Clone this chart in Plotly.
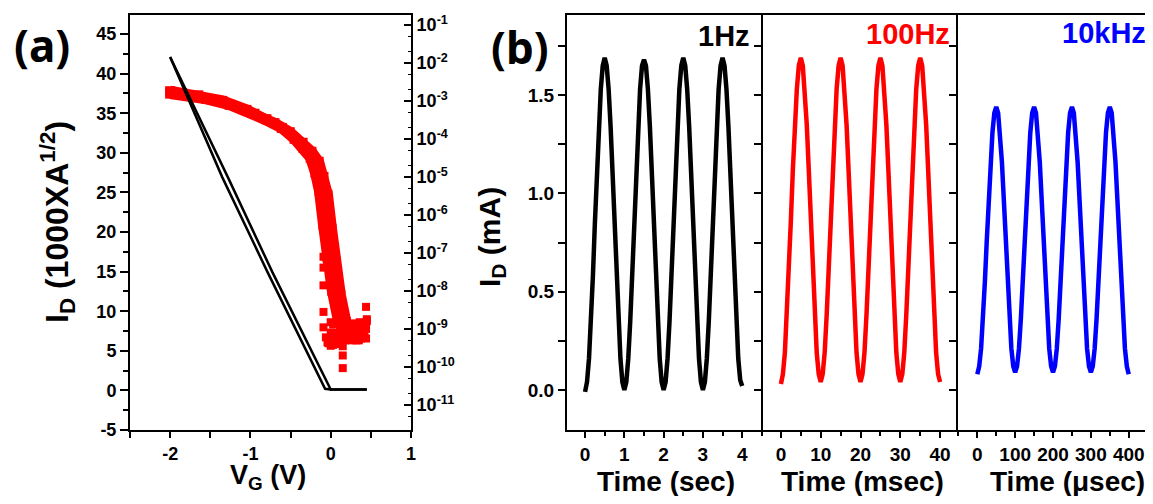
import plotly.graph_objects as go

# ---------- panel (a): transfer curve ----------
# sqrt(I_D) lines (two sweeps), left axis
vg_sqrt_fwd = [-2.00, -1.35, -0.79, -0.07, 0.00, 0.45]
id_sqrt_fwd = [42.1, 26.9, 15.0, 0.2, 0.1, 0.1]
vg_sqrt_rev = [-2.00, -1.28, -0.73, 0.00, 0.45]
id_sqrt_rev = [42.1, 26.9, 15.0, 0.1, 0.1]

# log I_D (A), right axis
vg_log_fwd = [-2.00, -1.85, -1.65, -1.35, -1.05, -0.80, -0.61, -0.45, -0.34,
              -0.25, -0.19, -0.14, -0.09, -0.04, 0.02, 0.09]
id_log_fwd = [1.8e-3, 1.6e-3, 1.4e-3, 1.0e-3, 5.8e-4, 3.3e-4, 1.95e-4, 1.0e-4,
              5.8e-5, 3.2e-5, 1.3e-5, 4.3e-6, 5.5e-7, 7.6e-8, 1.0e-8, 1.9e-9]
vg_log_rev = [-2.00, -1.76, -1.55, -1.26, -0.95, -0.70, -0.51, -0.35, -0.24,
              -0.15, -0.09, -0.04, 0.01, 0.06, 0.12, 0.19]
id_log_rev = [1.55e-3, 1.35e-3, 1.13e-3, 7.9e-4, 4.6e-4, 2.6e-4, 1.5e-4, 7.9e-5,
              4.6e-5, 2.5e-5, 1.0e-5, 3.4e-6, 4.3e-7, 5.9e-8, 7.9e-9, 1.5e-9]
# scattered points near the off state
vg_noise = [-0.09, -0.09, -0.09, -0.09, -0.09, -0.06, -0.04, -0.02,
            0.00, 0.02, 0.04, 0.06, 0.08, 0.10, 0.12, 0.14, 0.16, 0.18, 0.20,
            0.22, 0.24, 0.26, 0.28, 0.30, 0.32, 0.34, 0.36, 0.38, 0.40, 0.42,
            0.44, 0.45,
            0.00, 0.03, 0.06, 0.09, 0.12, 0.15, 0.18, 0.21, 0.24, 0.27, 0.30,
            0.33, 0.36, 0.39, 0.42, 0.45,
            -0.03, 0.00, 0.03, 0.06, 0.09, 0.12, 0.15, 0.20, 0.25, 0.30, 0.35,
            0.40, 0.44,
            0.44, 0.15, 0.15, 0.15]
id_noise = [7.9e-8, 4.1e-8, 1.4e-8, 2.8e-9, 1.1e-9, 6.0e-10, 4.5e-10, 5.0e-10,
            8.0e-10, 6.3e-10, 4.5e-10, 7.9e-10, 5.0e-10, 6.3e-10, 1.0e-9,
            4.0e-10, 7.9e-10, 5.0e-10, 8.9e-10, 5.6e-10, 1.0e-9, 5.0e-10,
            7.1e-10, 1.0e-9, 5.0e-10, 7.9e-10, 1.0e-9, 5.6e-10, 1.1e-9,
            6.3e-10, 1.0e-9, 1.6e-9,
            1.5e-9, 1.3e-9, 1.4e-9, 1.6e-9, 1.2e-9, 1.3e-9, 1.4e-9, 1.2e-9,
            1.3e-9, 1.4e-9, 1.2e-9, 1.3e-9, 1.5e-9, 1.3e-9, 1.4e-9, 1.8e-9,
            4.2e-10, 3.6e-10, 3.8e-10, 4.5e-10, 4.0e-10, 5.0e-10, 3.5e-10,
            6.3e-10, 5.6e-10, 6.0e-10, 5.0e-10, 6.3e-10, 5.6e-10,
            3.8e-9, 9.3e-11, 2.0e-10, 2.5e-9]

vg_tickvals = [-2, -1, 0, 1]
vg_ticktext = ["-2", "-1", "0", "1"]
sqrt_tickvals = [-5, 0, 5, 10, 15, 20, 25, 30, 35, 40, 45]
sqrt_ticktext = ["-5", "0", "5", "10", "15", "20", "25", "30", "35", "40", "45"]
log_tickvals = [1e-1, 1e-2, 1e-3, 1e-4, 1e-5, 1e-6, 1e-7, 1e-8, 1e-9, 1e-10, 1e-11]
log_ticktext = ["10<sup>-1</sup>", "10<sup>-2</sup>", "10<sup>-3</sup>", "10<sup>-4</sup>",
                "10<sup>-5</sup>", "10<sup>-6</sup>", "10<sup>-7</sup>", "10<sup>-8</sup>",
                "10<sup>-9</sup>", "10<sup>-10</sup>", "10<sup>-11</sup>"]

# ---------- panel (b): AC response ----------
time_sec = [0.00, 0.05, 0.10, 0.15, 0.20, 0.25, 0.30, 0.35, 0.40, 0.45,
            0.50, 0.55, 0.60, 0.65, 0.70, 0.75, 0.80, 0.85, 0.90, 0.95,
            1.00, 1.05, 1.10, 1.15, 1.20, 1.25, 1.30, 1.35, 1.40, 1.45,
            1.50, 1.55, 1.60, 1.65, 1.70, 1.75, 1.80, 1.85, 1.90, 1.95,
            2.00, 2.05, 2.10, 2.15, 2.20, 2.25, 2.30, 2.35, 2.40, 2.45,
            2.50, 2.55, 2.60, 2.65, 2.70, 2.75, 2.80, 2.85, 2.90, 2.95,
            3.00, 3.05, 3.10, 3.15, 3.20, 3.25, 3.30, 3.35, 3.40, 3.45,
            3.50, 3.55, 3.60, 3.65, 3.70, 3.75, 3.80, 3.85, 3.90, 3.95, 4.00]
time_msec = [t * 10 for t in time_sec]
time_usec = [t * 100 for t in time_sec]

id_1hz = [-0.01, 0.04, 0.16, 0.35, 0.58, 0.85, 1.11, 1.34, 1.53, 1.65,
          1.69, 1.65, 1.53, 1.34, 1.11, 0.85, 0.58, 0.35, 0.16, 0.04,
          0.00, 0.04, 0.16, 0.35, 0.58, 0.85, 1.11, 1.34, 1.53, 1.65,
          1.68, 1.65, 1.53, 1.34, 1.11, 0.85, 0.58, 0.35, 0.16, 0.04,
          0.00, 0.04, 0.16, 0.35, 0.58, 0.85, 1.11, 1.34, 1.53, 1.65,
          1.69, 1.65, 1.53, 1.34, 1.11, 0.85, 0.58, 0.35, 0.16, 0.04,
          0.00, 0.04, 0.16, 0.35, 0.58, 0.85, 1.11, 1.34, 1.53, 1.65,
          1.69, 1.65, 1.53, 1.34, 1.11, 0.85, 0.58, 0.35, 0.16, 0.05, 0.02]
id_100hz = [0.03, 0.08, 0.19, 0.38, 0.61, 0.86, 1.12, 1.35, 1.53, 1.65,
            1.69, 1.65, 1.53, 1.35, 1.12, 0.86, 0.61, 0.38, 0.19, 0.08,
            0.04, 0.08, 0.19, 0.38, 0.61, 0.86, 1.12, 1.35, 1.53, 1.65,
            1.69, 1.65, 1.53, 1.35, 1.12, 0.86, 0.61, 0.38, 0.19, 0.08,
            0.04, 0.08, 0.19, 0.38, 0.61, 0.86, 1.12, 1.35, 1.53, 1.65,
            1.69, 1.65, 1.53, 1.35, 1.12, 0.86, 0.61, 0.38, 0.19, 0.08,
            0.04, 0.08, 0.19, 0.38, 0.61, 0.86, 1.12, 1.35, 1.53, 1.65,
            1.69, 1.65, 1.53, 1.35, 1.12, 0.86, 0.61, 0.38, 0.19, 0.08, 0.04]
id_10khz = [0.08, 0.12, 0.21, 0.36, 0.55, 0.76, 0.97, 1.16, 1.31, 1.41,
            1.44, 1.41, 1.31, 1.16, 0.97, 0.76, 0.55, 0.36, 0.21, 0.12,
            0.09, 0.12, 0.21, 0.36, 0.55, 0.76, 0.97, 1.16, 1.31, 1.41,
            1.44, 1.41, 1.31, 1.16, 0.97, 0.76, 0.55, 0.36, 0.21, 0.12,
            0.09, 0.12, 0.21, 0.36, 0.55, 0.76, 0.97, 1.16, 1.31, 1.41,
            1.44, 1.41, 1.31, 1.16, 0.97, 0.76, 0.55, 0.36, 0.21, 0.12,
            0.09, 0.12, 0.21, 0.36, 0.55, 0.76, 0.97, 1.16, 1.31, 1.41,
            1.44, 1.41, 1.31, 1.16, 0.97, 0.76, 0.55, 0.36, 0.21, 0.12, 0.08]

# page body has an 8px margin, so the figure is 16px smaller than the window
OFF = 8
W, H = 1153 - 2 * OFF, 504 - 2 * OFF
FONT = "Liberation Sans"
RED, BLUE, BLACK = "#ff0000", "#0000ff", "#000000"


def px(x):
    return (x - OFF) / W


def py(y):
    return 1 - (y - OFF) / H


fig = go.Figure()

# red log curve on base axis (drawn below black)
for vx, iy in [(vg_log_fwd, id_log_fwd), (vg_log_rev, id_log_rev)]:
    fig.add_trace(go.Scatter(x=vx, y=iy, xaxis="x", yaxis="y", mode="lines+markers",
                             line=dict(color=RED, width=11),
                             marker=dict(symbol="square", size=10, color=RED),
                             showlegend=False))
fig.add_trace(go.Scatter(x=vg_noise, y=id_noise, xaxis="x", yaxis="y", mode="markers",
                         marker=dict(symbol="square", size=8, color=RED),
                         showlegend=False))
for vx, iy in [(vg_sqrt_fwd, id_sqrt_fwd), (vg_sqrt_rev, id_sqrt_rev)]:
    fig.add_trace(go.Scatter(x=vx, y=iy, xaxis="x", yaxis="y2", mode="lines",
                             line=dict(color=BLACK, width=2.5), showlegend=False))

fig.add_trace(go.Scatter(x=time_sec, y=id_1hz, xaxis="x3", yaxis="y3", mode="lines",
                         line=dict(color=BLACK, width=4.5), showlegend=False))
fig.add_trace(go.Scatter(x=time_msec, y=id_100hz, xaxis="x4", yaxis="y4", mode="lines",
                         line=dict(color=RED, width=4.5), showlegend=False))
fig.add_trace(go.Scatter(x=time_usec, y=id_10khz, xaxis="x5", yaxis="y5", mode="lines",
                         line=dict(color=BLUE, width=4.5), showlegend=False))

tick_a = dict(family=FONT, size=18, color=BLACK, weight="bold")
tick_b = dict(family=FONT, size=19, color=BLACK, weight="bold")
common = dict(showgrid=False, zeroline=False, showline=True, linecolor=BLACK,
              linewidth=2, tickcolor=BLACK, tickwidth=2)

ydom = [py(430), py(15)]
b1 = [px(567), px(763)]
b2 = [px(763), px(958)]
b3 = [px(958), min(px(1151), 1.0)]

fig.update_layout(
    width=W, height=H, template="none",
    margin=dict(l=0, r=0, t=0, b=0),
    paper_bgcolor="white", plot_bgcolor="white",
    font=dict(family=FONT, color=BLACK),
    xaxis=dict(domain=[px(130), px(411)], range=[-2.5, 1], anchor="y",
               tickmode="array", tickvals=vg_tickvals, ticktext=vg_ticktext,
               ticks="outside", ticklen=6,
               minor=dict(dtick=0.5, tick0=0, ticks="outside", ticklen=6, tickwidth=2,
                          tickcolor=BLACK, showgrid=False),
               mirror=True, tickfont=tick_a, **common),
    yaxis=dict(domain=ydom, type="log", range=[-11.66, -0.74], side="right",
               anchor="x", tickmode="array", tickvals=log_tickvals,
               ticktext=log_ticktext, ticks="inside", ticklen=7,
               minor=dict(ticks="inside", ticklen=3, tickwidth=1, tickcolor=BLACK,
                          showgrid=False),
               tickfont=tick_a, **common),
    yaxis2=dict(domain=ydom, range=[-5, 47.4], side="left", anchor="x", overlaying="y",
                tickmode="array", tickvals=sqrt_tickvals, ticktext=sqrt_ticktext,
                ticks="outside", ticklen=8,
                minor=dict(dtick=2.5, tick0=0, ticks="outside", ticklen=5, tickwidth=2,
                           tickcolor=BLACK, showgrid=False),
                tickfont=tick_a, **common),
    xaxis3=dict(domain=b1, range=[-0.46, 4.53], anchor="y3", tickmode="linear",
                tick0=0, dtick=1, ticks="outside", ticklen=6,
                minor=dict(dtick=0.5, tick0=0, ticks="outside", ticklen=4, tickwidth=2,
                           tickcolor=BLACK, showgrid=False),
                mirror=True, tickfont=tick_b, **common),
    xaxis4=dict(domain=b2, range=[-4.5, 44.5], anchor="y4", tickmode="linear",
                tick0=0, dtick=10, ticks="outside", ticklen=6,
                minor=dict(dtick=5, tick0=0, ticks="outside", ticklen=4, tickwidth=2,
                           tickcolor=BLACK, showgrid=False),
                mirror=True, tickfont=tick_b, **common),
    xaxis5=dict(domain=b3, range=[-51, 443], anchor="y5", tickmode="linear",
                tick0=0, dtick=100, ticks="outside", ticklen=6,
                minor=dict(dtick=50, tick0=0, ticks="outside", ticklen=4, tickwidth=2,
                           tickcolor=BLACK, showgrid=False),
                mirror=True, tickfont=tick_b, **common),
    yaxis3=dict(domain=ydom, range=[-0.204, 1.908], anchor="x3", tickmode="linear",
                tick0=0, dtick=0.5, tickformat=".1f", ticks="outside", ticklen=7,
                minor=dict(dtick=0.25, tick0=0, ticks="outside", ticklen=7, tickwidth=2,
                           tickcolor=BLACK, showgrid=False),
                tickfont=tick_b, **common),
    yaxis4=dict(domain=ydom, range=[-0.204, 1.908], anchor="x4", tickmode="linear",
                tick0=0, dtick=0.5, ticks="outside", ticklen=7, showticklabels=False,
                minor=dict(dtick=0.25, tick0=0, ticks="outside", ticklen=7, tickwidth=2,
                           tickcolor=BLACK, showgrid=False),
                **common),
    yaxis5=dict(domain=ydom, range=[-0.204, 1.908], anchor="x5", tickmode="linear",
                tick0=0, dtick=0.5, ticks="outside", ticklen=7, showticklabels=False,
                minor=dict(dtick=0.25, tick0=0, ticks="outside", ticklen=7, tickwidth=2,
                           tickcolor=BLACK, showgrid=False),
                **common),
)


def label(text, x, y, size, color=BLACK, angle=0, xanchor="center", yanchor="middle",
          family=FONT):
    fig.add_annotation(text=text, x=x, y=y, xref="paper", yref="paper",
                       showarrow=False, textangle=angle, xanchor=xanchor,
                       yanchor=yanchor,
                       font=dict(family=family, size=size, color=color, weight="bold"))


label("(a)", px(42), py(45), 44, family="Noto Sans")
label("(b)", px(520), py(47), 44, family="Noto Sans")
label("I<sub>D</sub> (1000XA<sup>1/2</sup>)", px(57), py(222), 32, angle=-90)
label("V<sub>G</sub> (V)", px(268), py(477), 27)
label("I<sub>D</sub> (mA)", px(492), py(237), 30, angle=-90)
label("Time (sec)", px(666), py(481), 28)
label("Time (msec)", px(862), py(481), 28)
label("Time (μsec)", px(1067), py(481), 28)
label("1Hz", px(752), py(36), 29, xanchor="right")
label("100Hz", px(952), py(34), 29, color=RED, xanchor="right")
label("10kHz", px(1148), py(33), 29, color=BLUE, xanchor="right")

fig.write_html("out.html")
